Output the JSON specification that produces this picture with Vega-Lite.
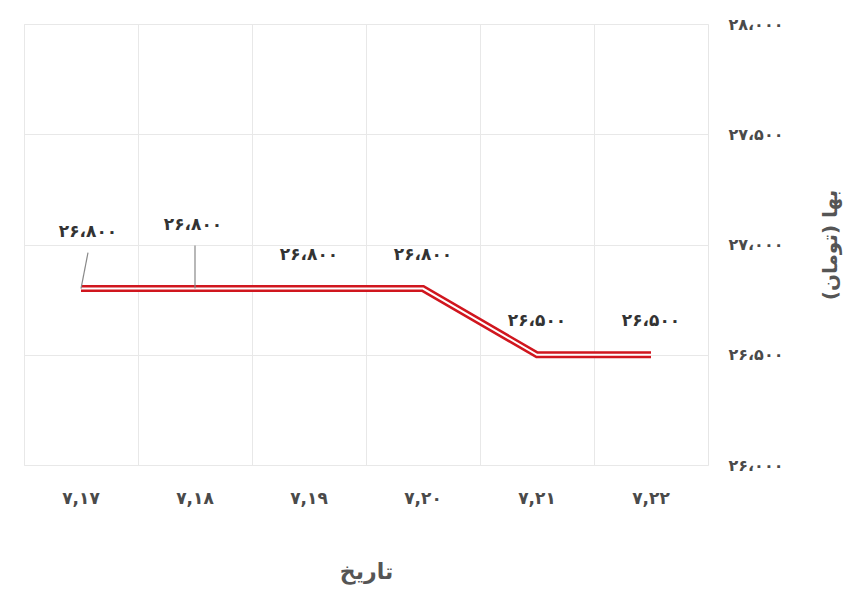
{
  "$schema": "https://vega.github.io/schema/vega-lite/v6.json",
  "width": 684,
  "height": 441,
  "autosize": {"type": "none"},
  "padding": {"left": 24, "top": 24, "right": 152, "bottom": 128},
  "background": "white",
  "config": {
    "view": {"stroke": "#e6e6e6", "strokeWidth": 1},
    "font": "DejaVu Sans"
  },
  "data": {
    "values": [
      {"date": "۷,۱۷", "price": 26800, "label": "۲۶،۸۰۰"},
      {"date": "۷,۱۸", "price": 26800, "label": "۲۶،۸۰۰"},
      {"date": "۷,۱۹", "price": 26800, "label": "۲۶،۸۰۰"},
      {"date": "۷,۲۰", "price": 26800, "label": "۲۶،۸۰۰"},
      {"date": "۷,۲۱", "price": 26500, "label": "۲۶،۵۰۰"},
      {"date": "۷,۲۲", "price": 26500, "label": "۲۶،۵۰۰"}
    ]
  },
  "encoding": {
    "x": {
      "field": "date",
      "type": "ordinal",
      "sort": null,
      "scale": {"type": "band", "paddingInner": 0, "paddingOuter": 0},
      "axis": {
        "title": "تاریخ",
        "bandPosition": 0,
        "grid": true,
        "gridColor": "#e8e8e8",
        "domain": false,
        "ticks": false,
        "labelAngle": 0,
        "labelPadding": 25,
        "labelFontSize": 17,
        "labelFontWeight": "bold",
        "labelColor": "#4a4a4a",
        "titleFontSize": 22,
        "titleFontWeight": "bold",
        "titleColor": "#555555",
        "titlePadding": 55
      }
    },
    "y": {
      "field": "price",
      "type": "quantitative",
      "scale": {"domain": [26000, 28000]},
      "axis": {
        "orient": "right",
        "title": "بها (تومان)",
        "values": [26000, 26500, 27000, 27500, 28000],
        "labelExpr": "datum.value == 26000 ? '۲۶،۰۰۰' : datum.value == 26500 ? '۲۶،۵۰۰' : datum.value == 27000 ? '۲۷،۰۰۰' : datum.value == 27500 ? '۲۷،۵۰۰' : '۲۸،۰۰۰'",
        "grid": true,
        "gridColor": "#e8e8e8",
        "domain": false,
        "ticks": false,
        "labelPadding": 20,
        "labelFontSize": 16,
        "labelFontWeight": "bold",
        "labelColor": "#4a4a4a",
        "titleFontSize": 20,
        "titleFontWeight": "bold",
        "titleColor": "#555555",
        "titleAngle": -90,
        "titlePadding": 58
      }
    }
  },
  "layer": [
    {"mark": {"type": "line", "color": "#d0161e", "strokeWidth": 7, "strokeJoin": "miter"}},
    {"mark": {"type": "line", "color": "#ffffff", "strokeWidth": 2, "strokeJoin": "miter"}},
    {
      "transform": [{"filter": {"field": "date", "equal": "۷,۱۷"}}],
      "mark": {"type": "rule", "color": "#888888", "strokeWidth": 1.2, "x2Offset": 7, "y2Offset": -36},
      "encoding": {"x2": {"field": "date"}, "y2": {"field": "price"}}
    },
    {
      "transform": [{"filter": {"field": "date", "equal": "۷,۱۸"}}],
      "mark": {"type": "rule", "color": "#888888", "strokeWidth": 1.2, "y2Offset": -43},
      "encoding": {"y2": {"field": "price"}}
    },
    {
      "transform": [{"filter": {"field": "date", "equal": "۷,۱۷"}}],
      "mark": {"type": "text", "dx": 7, "dy": -57, "fontSize": 17, "fontWeight": "bold", "color": "#333333"},
      "encoding": {"text": {"field": "label"}}
    },
    {
      "transform": [{"filter": {"field": "date", "equal": "۷,۱۸"}}],
      "mark": {"type": "text", "dx": -2, "dy": -64, "fontSize": 17, "fontWeight": "bold", "color": "#333333"},
      "encoding": {"text": {"field": "label"}}
    },
    {
      "transform": [{"filter": {"field": "date", "oneOf": ["۷,۱۹", "۷,۲۰", "۷,۲۱", "۷,۲۲"]}}],
      "mark": {"type": "text", "dy": -34, "fontSize": 17, "fontWeight": "bold", "color": "#333333"},
      "encoding": {"text": {"field": "label"}}
    }
  ]
}
